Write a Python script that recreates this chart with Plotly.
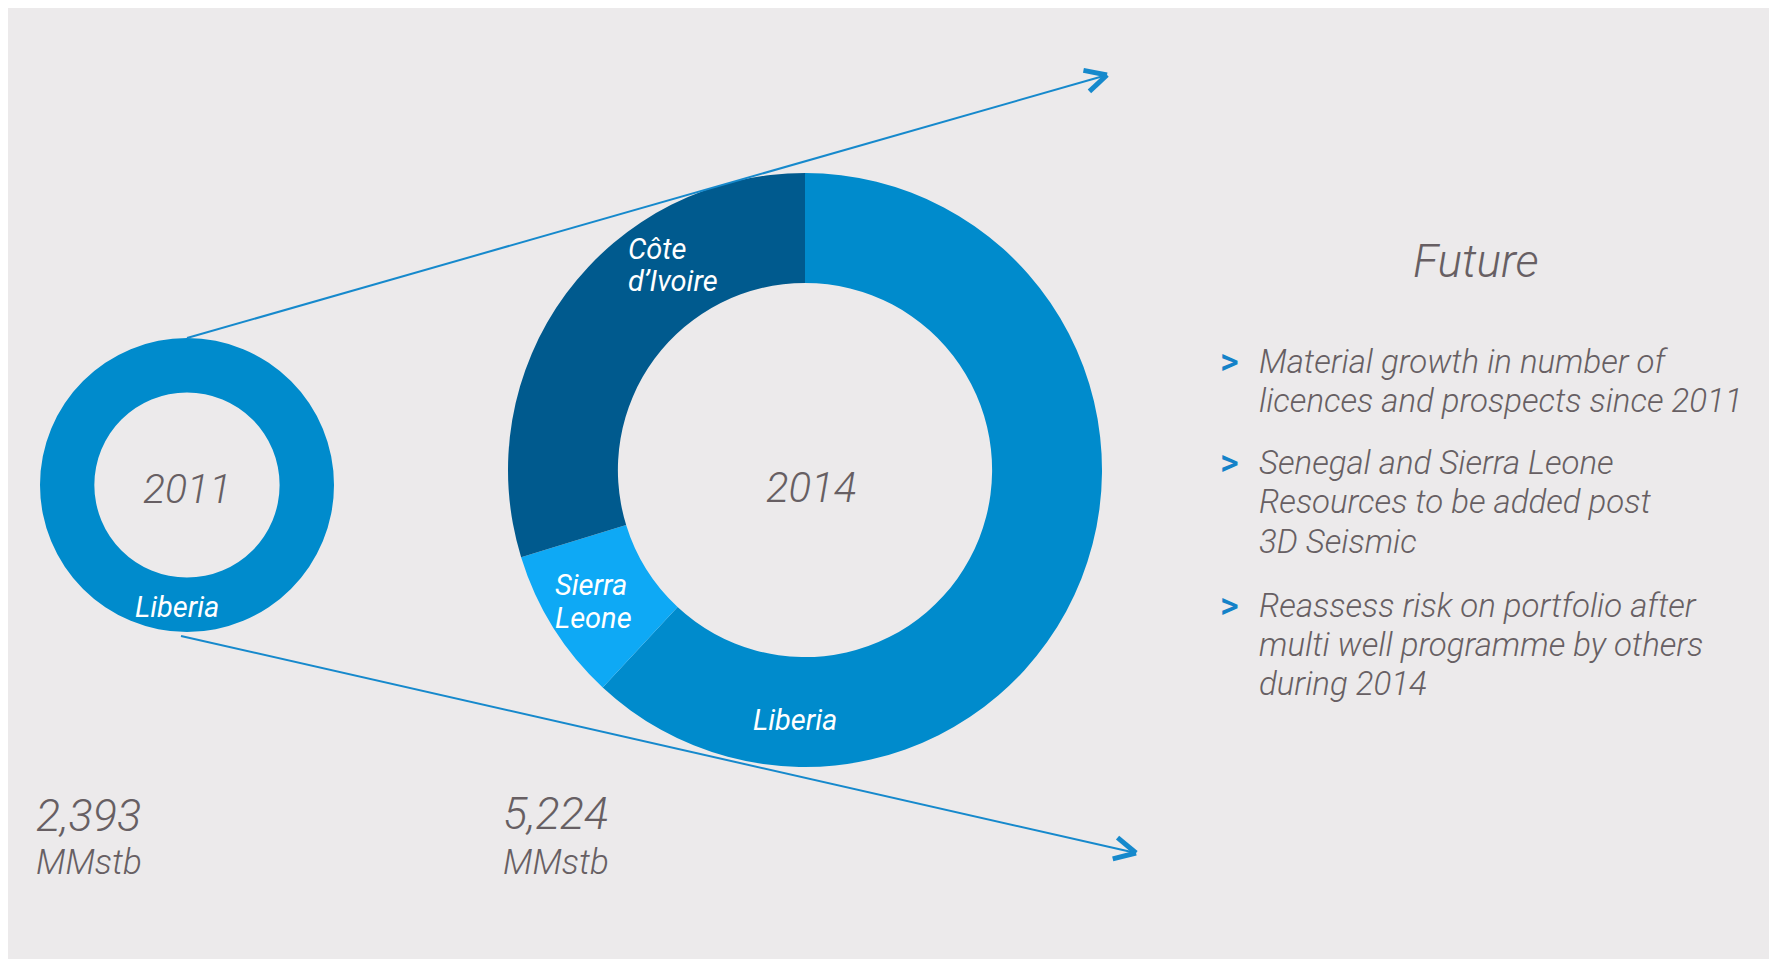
import math
import plotly.graph_objects as go

# ---------------- data ----------------
years = ["2011", "2014"]
totals = [2393, 5224]
unit = "MMstb"
countries_2011 = ["Liberia"]
values_2011 = [2393]
countries_2014 = ["Liberia", "Sierra Leone", "Côte d’Ivoire"]
values_2014 = [3235, 435, 1554]
future_title = "Future"
future_points = [
    ["Material growth in number of", "licences and prospects since 2011"],
    ["Senegal and Sierra Leone", "Resources to be added post", "3D Seismic"],
    ["Reassess risk on portfolio after", "multi well programme by others", "during 2014"],
]

# ---------------- styling ----------------
OFF = 8                      # page body margin
W, H = 1777 - 2 * OFF, 959 - OFF
BG = "#ECEAEB"
GREY = "#675F63"
BLUE_LINE = "#1689CC"
slice_colors = {"Liberia": "#008BCC", "Sierra Leone": "#0EA9F5", "Côte d’Ivoire": "#005A8E"}
FONT = "Roboto"


def px(x, y):
    return (x - OFF) / W, 1 - (y - OFF) / H


def domain(cx, cy, r):
    x0, y1 = px(cx - r, cy - r)
    x1, y0 = px(cx + r, cy + r)
    return dict(x=[x0, x1], y=[y0, y1])


fig = go.Figure()

fig.add_trace(go.Pie(
    labels=countries_2011, values=values_2011, hole=0.63, sort=False,
    direction="clockwise", rotation=0, textinfo="none", hoverinfo="skip",
    marker=dict(colors=[slice_colors[c] for c in countries_2011], line=dict(width=0)),
    domain=domain(187, 485, 147), showlegend=False,
))
fig.add_trace(go.Pie(
    labels=countries_2014, values=values_2014, hole=0.63, sort=False,
    direction="clockwise", rotation=0, textinfo="none", hoverinfo="skip",
    marker=dict(colors=[slice_colors[c] for c in countries_2014], line=dict(width=0)),
    domain=domain(805, 470, 297), showlegend=False,
))

shapes = []


def arrow(start, tip):
    sx, sy = start
    tx, ty = tip
    a = px(sx, sy)
    b = px(tx, ty)
    shapes.append(dict(type="line", xref="paper", yref="paper", x0=a[0], y0=a[1], x1=b[0], y1=b[1],
                       line=dict(color=BLUE_LINE, width=2), layer="above"))
    ang = math.atan2(sy - ty, sx - tx)
    L = 24
    half = math.radians(27)
    for s in (1, -1):
        q = (tx + L * math.cos(ang + s * half), ty + L * math.sin(ang + s * half))
        u = px(*q)
        shapes.append(dict(type="line", xref="paper", yref="paper", x0=u[0], y0=u[1], x1=b[0], y1=b[1],
                           line=dict(color=BLUE_LINE, width=5), layer="above"))


arrow((187, 338), (1107, 75))
arrow((181, 636), (1136, 853))

annotations = []


def text(s, x, baseline, size, color=GREY, anchor="left", weight=300, style="italic"):
    cy = baseline - 0.36 * size
    ax, ay = px(x, cy)
    annotations.append(dict(text=s, x=ax, y=ay, xref="paper", yref="paper", xanchor=anchor,
                            yanchor="middle", showarrow=False,
                            font=dict(family=FONT, size=size, color=color, weight=weight, style=style)))


# centre years
text(years[0], 187, 504, 41, anchor="center")
text(years[1], 811, 503, 42, anchor="center")

# totals
text(f"{totals[0]:,}", 34, 832, 45)
text(unit, 34, 875, 35)
text(f"{totals[1]:,}", 501, 830, 45)
text(unit, 501, 875, 35)

# slice labels
text(countries_2011[0], 177, 617, 29, color="white", anchor="center", weight=400)
text(countries_2014[0], 795, 730, 29, color="white", anchor="center", weight=400)
text("Sierra", 553, 595, 29, color="white", weight=400)
text("Leone", 553, 628, 29, color="white", weight=400)
text("Côte", 626, 259, 29, color="white", weight=400)
text("d’Ivoire", 626, 291, 29, color="white", weight=400)

# future panel
text(future_title, 1476, 278, 46, anchor="center")
baselines = [[373, 412], [474, 513, 553], [617, 656, 695]]
for lines, bls in zip(future_points, baselines):
    text("&gt;", 1218, bls[0] + 2, 36, color="#1482C8", weight=500, style="normal")
    for ln, bl in zip(lines, bls):
        text(ln, 1257, bl, 33)

fig.update_layout(
    width=W, height=H, margin=dict(l=0, r=0, t=0, b=0),
    paper_bgcolor=BG, plot_bgcolor=BG,
    shapes=shapes, annotations=annotations, showlegend=False,
)

fig.write_html("out.html")
